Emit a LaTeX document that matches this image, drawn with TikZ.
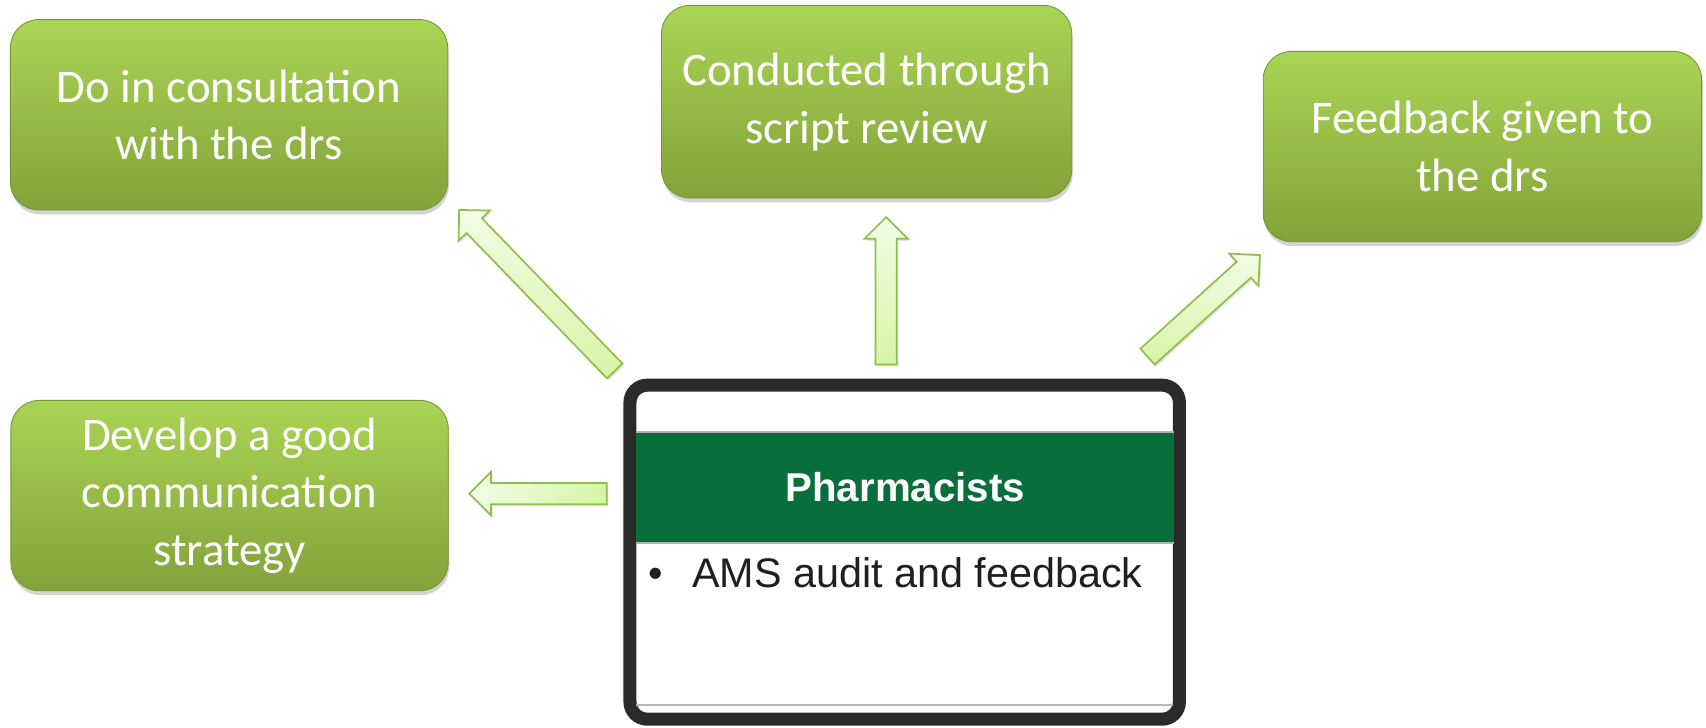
\documentclass[tikz,border=0pt]{standalone}
\usepackage{fontspec}
\setmainfont{Carlito}
\newfontfamily\arialfont{Liberation Sans}
\usetikzlibrary{calc,shadows}
\definecolor{boxtop}{RGB}{170,212,84}
\definecolor{boxbot}{RGB}{130,163,58}
\definecolor{boxedge}{RGB}{118,150,50}
\definecolor{arrfillA}{RGB}{242,253,230}
\definecolor{arrfillB}{RGB}{214,245,166}
\definecolor{arredge}{RGB}{146,190,80}
\definecolor{bandgreen}{RGB}{8,111,58}
\definecolor{framecol}{RGB}{42,42,42}
\newcommand\fatarrow[3]{%
  \coordinate (#1-h) at ($(#2)!20pt!(#1)$);
  \path[blockarrow,#3]
    ($(#1)!9.8pt!90:(#2)$) -- ($(#1-h)!9.8pt!90:(#2)$) -- ($(#1-h)!20pt!90:(#2)$) -- (#2)
    -- ($(#1-h)!20pt!-90:(#2)$) -- ($(#1-h)!9.8pt!-90:(#2)$) -- ($(#1)!9.8pt!-90:(#2)$) -- cycle;
}
\tikzset{
  greenbox/.style={rectangle, rounded corners=26pt, top color=boxtop, bottom color=boxbot,
    draw=boxedge, line width=0.8pt, text=white, align=center,
    font=\fontsize{43}{53}\selectfont, inner sep=0pt,
    drop shadow={opacity=0.35, shadow xshift=1pt, shadow yshift=-4pt}},
  blockarrow/.style={draw=arredge, line width=1.6pt, line join=miter,
    drop shadow={opacity=0.2, shadow xshift=1.5pt, shadow yshift=-2pt}},
}
\begin{document}
\begin{tikzpicture}[x=1pt,y=-1pt]
\useasboundingbox (0,0) rectangle (1568,668.2);
% green boxes
\node[greenbox, minimum width=402pt, minimum height=175pt] (consult) at (210.5,105.5) {Do in consultation\\with the drs};
\node[greenbox, minimum width=377pt, minimum height=177pt] (script) at (796.5,93.5) {Conducted through\\script review};
\node[greenbox, minimum width=403pt, minimum height=175pt] (feedback) at (1362.5,134.7) {Feedback given to\\the drs};
\node[greenbox, minimum width=402pt, minimum height=175pt] (comm) at (211,455.5) {Develop a good\\communication\\strategy};
% central box
\node[rectangle, draw=framecol, line width=12pt, rounded corners=16pt, fill=white,
      minimum width=505pt, minimum height=307pt, inner sep=0pt] (pharm) at (831.5,507.5) {};
\node[rectangle, fill=bandgreen, minimum width=494pt, minimum height=102pt, inner sep=0pt,
      text=white, font=\arialfont\bfseries\fontsize{37}{44}\selectfont] (band) at (832,448) {Pharmacists};
\draw[gray!60, line width=1.5pt] (band.north west) -- (band.north east);
\draw[gray!60, line width=1.2pt] (band.south west) -- (band.south east);
\coordinate (lineL) at (585,648);
\coordinate (lineR) at (1078,648);
\draw[gray!55, line width=1.5pt] (lineL) -- (lineR);
\node[anchor=base west, inner sep=0pt, text=black!88,
      font=\arialfont\fontsize{38}{44}\selectfont] (bullet) at (596,540)
      {\makebox[40pt][l]{\textbullet}AMS audit and feedback};
% arrows
\coordinate (t1) at (565,341);   \coordinate (h1) at (422,193);
\coordinate (t2) at (814.5,335); \coordinate (h2) at (814.5,199.5);
\coordinate (t3) at (1054.7,327.8); \coordinate (h3) at (1158,234.5);
\coordinate (t4) at (557.6,453.7); \coordinate (h4) at (431.3,453.7);
\fatarrow{t1}{h1}{top color=arrfillA, bottom color=arrfillB}
\fatarrow{t2}{h2}{top color=arrfillA, bottom color=arrfillB}
\fatarrow{t3}{h3}{top color=arrfillA, bottom color=arrfillB}
\fatarrow{t4}{h4}{left color=arrfillA, right color=arrfillB}
\end{tikzpicture}
\end{document}
